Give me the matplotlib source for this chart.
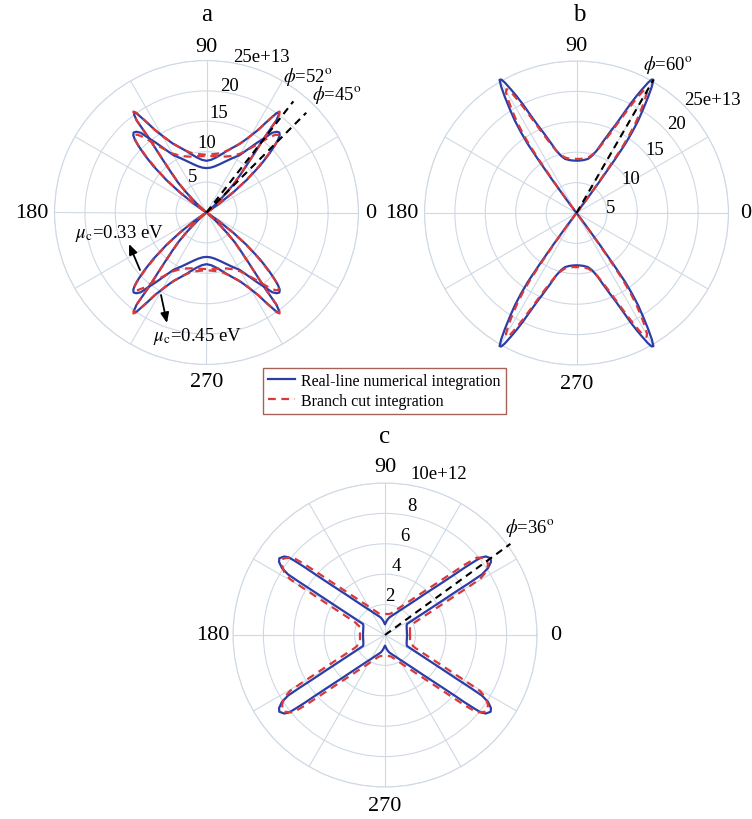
import numpy as np
import matplotlib.pyplot as plt
from matplotlib.lines import Line2D

plt.rcParams['font.family'] = ['Liberation Serif', 'DejaVu Serif']
plt.rcParams['mathtext.fontset'] = 'stix'

# Radiation lobes, first quadrant only (angle in degrees, |E| in units of the ring labels).
# The patterns are mirror-symmetric about both axes, so the rest is reflected.

# panel a, mu_c = 0.45 eV (lobe near 52 deg)
a_hi_blue_theta = [0, 38, 40, 42, 43.5, 45, 46.5, 48, 49.5, 51, 52.3, 52.8, 53.5, 54.2,
                   54.8, 55.5, 56.5, 58, 61, 64, 68, 72, 76, 80, 85, 90]
a_hi_blue_r = [0, 0, 0.6, 1.8, 3.3, 5.0, 6.8, 8.2, 10.0, 12.5, 15.5, 19.0, 20.0, 20.3,
               20.0, 19.0, 17.8, 16.0, 14.0, 12.6, 11.5, 10.6, 9.8, 9.2, 8.7, 8.5]
a_hi_red_theta = [0, 38, 40, 42, 43.5, 45, 46.5, 48, 49.5, 51, 52.2, 52.8, 53.4, 54.1,
                  54.8, 55.6, 56.6, 58, 61, 65, 70, 75, 80, 85, 90]
a_hi_red_r = [0, 0, 0.6, 1.8, 3.2, 4.8, 6.6, 8.0, 9.8, 12.3, 15.5, 18.8, 20.1, 20.5,
              20.1, 19.0, 17.6, 16.0, 14.0, 12.3, 11.0, 10.2, 9.8, 9.6, 9.5]

# panel a, mu_c = 0.33 eV (lobe near 45 deg)
a_lo_blue_theta = [0, 31, 33, 35, 37, 39, 41.2, 43, 44.5, 45.5, 46.5, 47.7, 49, 50.5,
                   52, 54, 57, 60, 65, 70, 75, 80, 85, 90]
a_lo_blue_r = [0, 0, 0.6, 2.5, 5.5, 8.5, 11.7, 14.0, 15.8, 16.8, 17.5, 17.8, 17.6, 17.0,
               15.6, 14.2, 12.3, 10.9, 9.8, 8.9, 8.2, 7.7, 7.4, 7.3]
a_lo_red_theta = [0, 31, 33, 35, 37, 39, 41, 42.8, 44.2, 45.2, 46.2, 47.2, 48.4, 50,
                  52, 54, 57, 60, 65, 70, 75, 80, 85, 90]
a_lo_red_r = [0, 0, 0.6, 2.4, 5.2, 8.2, 11.0, 13.4, 15.3, 16.5, 17.2, 17.4, 17.1, 16.2,
              14.8, 13.6, 12.2, 11.2, 10.3, 9.8, 9.5, 9.4, 9.3, 9.3]

# panel b (lobe at 60 deg)
b_blue_theta = [0, 52.5, 53.2, 53.8, 54.3, 54.8, 55.5, 56.3, 57.3, 58.3, 59.2, 60.0,
                60.6, 61.2, 62.0, 62.8, 63.7, 64.7, 66.0, 67.5, 69.5, 72, 75, 78, 82,
                86, 90]
b_blue_r = [0, 0, 2.5, 6.5, 10.5, 14.0, 16.2, 18.3, 20.3, 22.4, 24.2, 25.3, 25.2, 24.5,
            23.1, 21.7, 20.0, 18.0, 16.0, 14.4, 12.6, 10.8, 9.7, 9.1, 8.8, 8.65, 8.6]
b_red_theta = [0, 52.8, 53.5, 54.1, 54.7, 55.3, 56.0, 56.8, 57.8, 58.8, 59.7, 60.5,
               61.2, 61.9, 62.7, 63.6, 64.6, 65.8, 67.2, 69.0, 71.5, 74.5, 78, 82, 86, 90]
b_red_r = [0, 0, 2.3, 6.0, 10.0, 13.5, 15.8, 17.8, 19.8, 21.6, 23.0, 23.4, 23.1, 22.0,
           20.6, 19.0, 17.3, 15.6, 14.0, 12.5, 11.0, 10.0, 9.35, 9.05, 8.92, 8.9]

# panel c (lobe at 36 deg)
c_blue_theta = [0, 10, 18, 24, 26.6, 28.5, 29.8, 30.8, 31.4, 31.7, 32, 33, 34.6, 36,
                37.9, 38.9, 39.4, 40.2, 41, 42.1, 43.6, 45.8, 49, 53, 58.6, 64.8, 75.7,
                80, 84, 87, 90]
c_blue_r = [1.45, 1.46, 1.5, 1.56, 1.62, 2.24, 3.03, 4.21, 5.39, 6.58, 7.52, 8.08, 8.47,
            8.59, 8.41, 8.12, 7.67, 6.89, 6.1, 5.32, 4.55, 3.78, 3.0, 2.4, 1.9, 1.55,
            1.2, 1.05, 0.9, 0.78, 0.7]
c_red_theta = [0, 8, 13, 17.7, 23.1, 25.9, 28, 29.2, 30, 30.5, 32, 34.2, 37, 40.1,
               41.4, 43, 45.4, 49.4, 55.7, 64.9, 74.4, 80, 90]
c_red_r = [1.65, 1.66, 1.69, 1.73, 2.15, 2.93, 4.1, 5.28, 6.46, 7.26, 7.83, 8.19, 8.38,
           7.91, 7.01, 5.85, 4.68, 3.54, 2.57, 1.86, 1.47, 1.40, 1.38]

# beam directions marked with dashed lines (deg)
phi_a = [52, 45]
phi_b = [60]
phi_c = [36]

# ring ticks
ab_rticks = [5, 10, 15, 20, 25]
ab_rlabels = ['5', '10', '15', '20', '25e+13']
c_rticks = [2, 4, 6, 8, 10]
c_rlabels = ['2', '4', '6', '8', '10e+12']

BLUE = '#2c3ea6'
RED = '#d8393a'
GRID = '#cfd9e5'


def mirror_quadrant(theta_deg, r):
    th = np.asarray(theta_deg, dtype=float)
    rr = np.asarray(r, dtype=float)
    upper_th = np.concatenate([th, 180 - th[::-1]])
    upper_r = np.concatenate([rr, rr[::-1]])
    full_th = np.concatenate([upper_th, upper_th + 180])
    full_r = np.concatenate([upper_r, upper_r])
    return np.deg2rad(full_th), full_r


def setup_polar(ax, rticks, rlabels, label_pos, cardinal_pos):
    rmax = rticks[-1]
    ax.set_ylim(0, rmax)
    ax.set_yticks(rticks)
    ax.set_yticklabels([])
    ax.set_xticks(np.deg2rad(np.arange(0, 360, 30)))
    ax.set_xticklabels([])
    ax.grid(True, color=GRID, lw=0.8)
    ax.spines['polar'].set_color(GRID)
    ax.spines['polar'].set_linewidth(0.8)

    for text, (th, r) in zip(rlabels, label_pos):
        ax.text(np.deg2rad(th), r, text, fontsize=13.5, ha='center', va='center')

    for angle, frac in zip([0, 90, 180, 270], cardinal_pos):
        a = np.deg2rad(angle)
        ax.text(0.5 + 0.5 * frac * np.cos(a), 0.5 + 0.5 * frac * np.sin(a), str(angle),
                transform=ax.transAxes, fontsize=16, ha='center', va='center')


def draw_pair(ax, blue, red):
    th, r = mirror_quadrant(*blue)
    ax.plot(th, r, color=BLUE, lw=1.6, clip_on=False, zorder=3)
    th, r = mirror_quadrant(*red)
    ax.plot(th, r, color=RED, lw=1.6, ls=(0, (3.5, 2.5)), clip_on=False, zorder=4)


def draw_phi(ax, angle, length):
    a = np.deg2rad(angle)
    ax.plot([a, a], [0, length], color='k', lw=1.5, ls=(0, (3.5, 2.5)),
            clip_on=False, zorder=5)


W, H = 752, 820
fig = plt.figure(figsize=(W / 100, H / 100), dpi=100)


def polar_axes(cx, cy, R=152):
    return fig.add_axes([(cx - R) / W, (H - cy - R) / H, 2 * R / W, 2 * R / H],
                        projection='polar')


ax_a = polar_axes(206.5, 213.5)
ax_b = polar_axes(576.5, 214)
ax_c = polar_axes(385, 636)

setup_polar(ax_a, ab_rticks, ab_rlabels,
            [(110.3, 6.4), (90, 11.5), (83.2, 16.6), (79.6, 21.3), (70.6, 27.2)],
            [1.08, 1.09, 1.15, 1.11])
setup_polar(ax_b, ab_rticks, ab_rlabels,
            [(9.4, 5.75), (32.3, 10.5), (39, 16.5), (41.8, 22.0), (39.9, 29.2)],
            [1.11, 1.10, 1.15, 1.125])
setup_polar(ax_c, c_rticks, c_rlabels,
            [(82.7, 2.6), (80.9, 4.6), (78.6, 6.66), (78.3, 8.7), (71.7, 11.2)],
            [1.12, 1.11, 1.13, 1.12])

draw_pair(ax_a, (a_hi_blue_theta, a_hi_blue_r), (a_hi_red_theta, a_hi_red_r))
draw_pair(ax_a, (a_lo_blue_theta, a_lo_blue_r), (a_lo_red_theta, a_lo_red_r))
draw_pair(ax_b, (b_blue_theta, b_blue_r), (b_red_theta, b_red_r))
draw_pair(ax_c, (c_blue_theta, c_blue_r), (c_red_theta, c_red_r))

for phi in phi_a:
    draw_phi(ax_a, phi, 23.2)
for phi in phi_b:
    draw_phi(ax_b, phi, 25.3)
for phi in phi_c:
    draw_phi(ax_c, phi, 10.2)


def fig_text(x, y, s, **kw):
    fig.text(x / W, 1 - y / H, s, ha='center', va='center', **kw)


fig_text(206.5, 15, 'a', fontsize=18)
fig_text(579, 15, 'b', fontsize=18)
fig_text(385, 437, 'c', fontsize=18)

fig_text(308, 77, r'$\phi$=%d$^{\rm o}$' % phi_a[0], fontsize=13.5)
fig_text(337, 95, r'$\phi$=%d$^{\rm o}$' % phi_a[1], fontsize=13.5)
fig_text(668, 65, r'$\phi$=%d$^{\rm o}$' % phi_b[0], fontsize=13.5)
fig_text(530, 528, r'$\phi$=%d$^{\rm o}$' % phi_c[0], fontsize=13.5)

fig_text(119, 234, r'$\mu_{\rm c}$=0.33 eV', fontsize=13.5)
fig_text(197, 337, r'$\mu_{\rm c}$=0.45 eV', fontsize=13.5)

arrow_kw = dict(arrowstyle='-|>,head_length=0.6,head_width=0.25', color='k', lw=1.3,
                shrinkA=0, shrinkB=0)
ax_a.annotate('', xy=(129 / W, 1 - 245 / H), xytext=(140 / W, 1 - 271 / H),
              xycoords='figure fraction', textcoords='figure fraction',
              arrowprops=arrow_kw)
ax_a.annotate('', xy=(167 / W, 1 - 324 / H), xytext=(161 / W, 1 - 296 / H),
              xycoords='figure fraction', textcoords='figure fraction',
              arrowprops=arrow_kw)

handles = [Line2D([], [], color=BLUE, lw=1.6),
           Line2D([], [], color=RED, lw=1.6, ls=(0, (3.5, 2.5)))]
leg = fig.legend(handles, ['Real-line numerical integration', 'Branch cut integration'],
                 loc='upper left', bbox_to_anchor=(263 / W, 1 - 369 / H),
                 fontsize=11.5, frameon=True, fancybox=False, handlelength=1.7,
                 handletextpad=0.4, borderpad=0.3, labelspacing=0.25,
                 borderaxespad=0)
leg.get_frame().set_edgecolor('#8e3b2e')
leg.get_frame().set_linewidth(1.0)

fig.savefig('out.png', dpi=100)
